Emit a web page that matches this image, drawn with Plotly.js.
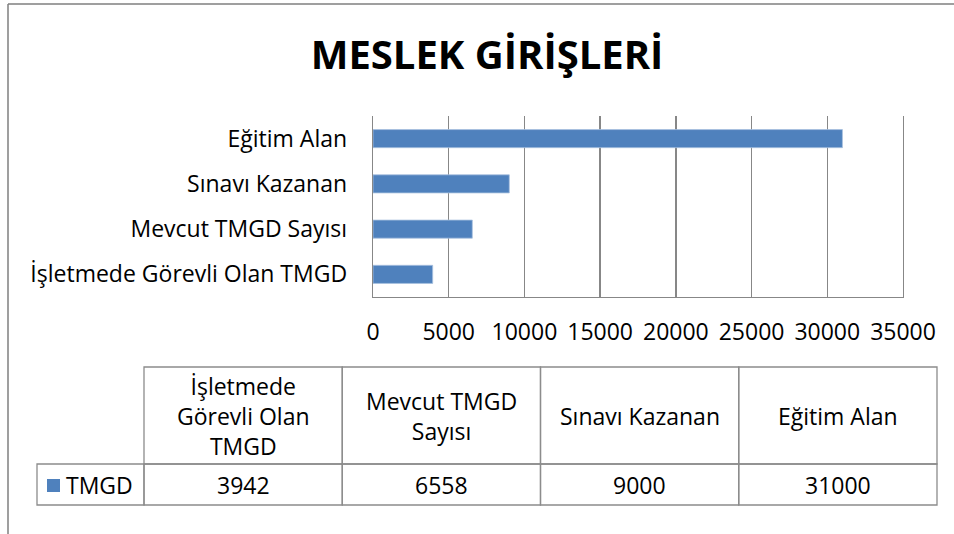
<!DOCTYPE html>
<html>
<head>
<meta charset="utf-8">
<script src="https://cdn.plot.ly/plotly-3.0.1.min.js"></script>
<style>html,body{margin:0;padding:0;background:#fff;}</style>
</head>
<body>
<div id="chart" style="width:954px;height:534px;"></div>
<script>
// ---- data ----
var categories = ['İşletmede Görevli Olan TMGD', 'Mevcut TMGD Sayısı', 'Sınavı Kazanan', 'Eğitim Alan'];
var headerLabels = ['İşletmede<br>Görevli Olan<br>TMGD', 'Mevcut TMGD<br>Sayısı', 'Sınavı Kazanan', 'Eğitim Alan'];
var seriesName = 'TMGD';
var values = [3942, 6558, 9000, 31000];
var xTicks = [0, 5000, 10000, 15000, 20000, 25000, 30000, 35000];

// ---- layout helpers (pixel -> paper) ----
var W = 954, H = 534;
var L = 373, R = 903, T = 116, B = 297;
function px(x) { return (x - L) / (R - L); }
function py(y) { return (B - y) / (B - T); }

var FONT = '"Open Sans", "Noto Sans", sans-serif';
var FS = 23;
var BLUE = '#4F81BD';
var GRID = '#878787';
var TBL = '#8c8c8c';

var shapes = [];
var annotations = [];

// outer chart border (left and top visible)
shapes.push({type: 'line', xref: 'paper', yref: 'paper', x0: px(8), x1: px(970), y0: py(4), y1: py(4), line: {color: '#7f7f7f', width: 1.5}});
shapes.push({type: 'line', xref: 'paper', yref: 'paper', x0: px(8), x1: px(8), y0: py(4), y1: py(560), line: {color: '#7f7f7f', width: 1.5}});

// data table
var tblX0 = 144, colW = (937 - 144) / categories.length;
var hdrY0 = 367, hdrY1 = 464, rowY1 = 505;
var legX0 = 37;
categories.forEach(function (c, i) {
  var x0 = tblX0 + i * colW, x1 = x0 + colW;
  shapes.push({type: 'rect', xref: 'paper', yref: 'paper', x0: px(x0), x1: px(x1), y0: py(hdrY0), y1: py(hdrY1), line: {color: TBL, width: 1.3}});
  shapes.push({type: 'rect', xref: 'paper', yref: 'paper', x0: px(x0), x1: px(x1), y0: py(hdrY1), y1: py(rowY1), line: {color: TBL, width: 1.3}});
  annotations.push({xref: 'paper', yref: 'paper', x: px((x0 + x1) / 2), y: py((hdrY0 + hdrY1) / 2), text: headerLabels[i], showarrow: false, xanchor: 'center', yanchor: 'middle', align: 'center', font: {family: FONT, size: FS, color: '#000'}});
  annotations.push({xref: 'paper', yref: 'paper', x: px((x0 + x1) / 2), y: py((hdrY1 + rowY1) / 2), text: String(values[i]), showarrow: false, xanchor: 'center', yanchor: 'middle', font: {family: FONT, size: FS, color: '#000'}});
});
// legend cell
shapes.push({type: 'rect', xref: 'paper', yref: 'paper', x0: px(legX0), x1: px(tblX0), y0: py(hdrY1), y1: py(rowY1), line: {color: TBL, width: 1.3}});
shapes.push({type: 'rect', xref: 'paper', yref: 'paper', x0: px(47), x1: px(60), y0: py(479), y1: py(492), fillcolor: BLUE, line: {width: 0}});
annotations.push({xref: 'paper', yref: 'paper', x: px(64), y: py((hdrY1 + rowY1) / 2), text: seriesName, showarrow: false, xanchor: 'left', yanchor: 'middle', font: {family: FONT, size: FS, color: '#000'}});

var trace = {
  type: 'bar',
  orientation: 'h',
  name: seriesName,
  y: categories,
  x: values,
  marker: {color: BLUE, line: {color: '#a9c1df', width: 0.8}},
  hoverinfo: 'x+y'
};

var layout = {
  width: W, height: H,
  margin: {l: L, r: W - R, t: T, b: H - B, pad: 0},
  paper_bgcolor: '#fff', plot_bgcolor: '#fff',
  showlegend: false,
  bargap: 0.6,
  title: {text: '<b>MESLEK GİRİŞLERİ</b>', xref: 'container', yref: 'container', x: 487 / W, y: 1 - 55 / H, xanchor: 'center', yanchor: 'middle', font: {family: FONT, size: 40, color: '#000'}},
  xaxis: {
    range: [0, 35000], tickvals: xTicks, ticktext: xTicks.map(String),
    showgrid: true, gridcolor: GRID, gridwidth: 1.3,
    showline: true, linecolor: GRID, linewidth: 1.3, mirror: false,
    zeroline: false,
    ticks: 'outside', ticklen: 14, tickcolor: 'rgba(0,0,0,0)',
    tickfont: {family: FONT, size: FS, color: '#000'},
    fixedrange: true
  },
  yaxis: {
    type: 'category', categoryorder: 'array', categoryarray: categories,
    showgrid: false, showline: true, linecolor: GRID, linewidth: 1.3, mirror: true,
    ticks: 'outside', ticklen: 20, tickcolor: 'rgba(0,0,0,0)',
    tickfont: {family: FONT, size: FS, color: '#000'},
    fixedrange: true
  },
  shapes: shapes,
  annotations: annotations
};

Plotly.newPlot('chart', [trace], layout, {displayModeBar: false, staticPlot: true});
</script>
</body>
</html>
